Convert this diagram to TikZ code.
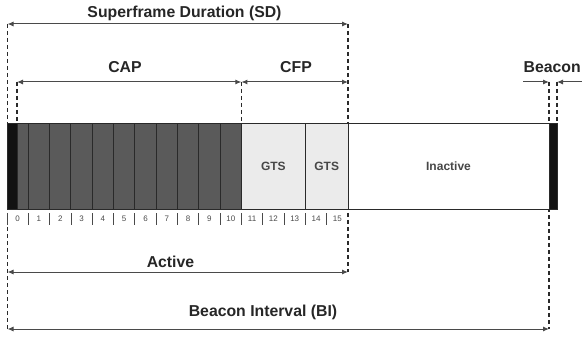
\documentclass[tikz,border=0pt]{standalone}
\usepackage{fontspec}
\setmainfont{Liberation Sans}
\usepackage{tikz}
\usetikzlibrary{arrows.meta,positioning}
\definecolor{capGray}{HTML}{5A5A5A}
\definecolor{gtsGray}{HTML}{EBEBEB}
\definecolor{frameInk}{HTML}{2A2A2A}
\definecolor{bcnBlack}{HTML}{121212}
\definecolor{lblInk}{HTML}{262626}
\definecolor{numInk}{HTML}{4A4A4A}

\begin{document}
\begin{tikzpicture}[
  x=1pt, y=-1pt,
  frame/.style={draw=frameInk, line width=1pt, minimum height=85pt, inner sep=0pt, outer sep=0pt},
  bcnbox/.style={frame, fill=bcnBlack, minimum width=10pt},
  capslot/.style={frame, fill=capGray, minimum width=21.3125pt},
  gtsbox/.style={frame, fill=gtsGray, font=\fontsize{12}{14}\selectfont\bfseries, text=lblInk!85},
  inactbox/.style={frame, fill=white, minimum width=201pt, font=\fontsize{12}{14}\selectfont\bfseries, text=lblInk!85},
  dimlbl/.style={font=\fontsize{15.8}{18}\selectfont\bfseries, text=lblInk, inner sep=0pt},
  slotnum/.style={font=\fontsize{8}{9}\selectfont, text=numInk, inner sep=0pt},
  dim/.style={{Latex[length=6pt,width=5pt]}-{Latex[length=6pt,width=5pt]}, line width=1pt, draw=frameInk!85},
  dimthin/.style={-{Latex[length=6pt,width=5pt]}, line width=1pt, draw=frameInk!85},
  guide/.style={dashed, dash pattern=on 4pt off 3pt, line width=1.1pt, draw=frameInk},
  tick/.style={line width=0.8pt, draw=numInk}
]
\useasboundingbox (0,0) rectangle (582,337);

% Guide lines behind the frame
\coordinate (gL) at (7.5,24);
\coordinate (gSD) at (348,24);
\coordinate (gCAP) at (17,82);
\coordinate (gCFP) at (241.4,82);
\coordinate (gB1) at (549,82);
\coordinate (gB2) at (557,82);
\draw[guide] (gL) -- (7.5,329);
\draw[guide] (gSD) -- (348,272);
\draw[guide] (gCAP) -- (17,124);
\draw[guide] (gCFP) -- (241.4,124);
\draw[guide] (gB1) -- (549,329);
\draw[guide] (gB2) -- (557,124);

% Superframe
\node[bcnbox, anchor=north west] (bcn0) at (7,124) {};
\node[capslot, minimum width=11.31pt, right=0pt of bcn0] (s0) {};
\foreach \i [remember=\i as \j (initially 0)] in {1,...,10}
  \node[capslot, right=0pt of s\j] (s\i) {};
\node[gtsbox, minimum width=63.94pt, right=0pt of s10] (gts1) {GTS};
\node[gtsbox, minimum width=42.63pt, right=0pt of gts1] (gts2) {GTS};
\node[inactbox, right=0pt of gts2] (inact) {Inactive};
\node[bcnbox, minimum width=8pt, right=0pt of inact] (bcn1) {};

% Slot numbers
\foreach \k in {0,...,15} {
  \node[slotnum] (n\k) at ({7+(\k+0.5)*21.3125},219) {\k};
  \draw[tick] ({7+\k*21.3125},213) -- ++(0,12);
}

% Dimension arrows
\coordinate (cAL) at (7.5,272);
\coordinate (cAR) at (348,272);
\coordinate (cBL) at (7.5,329);
\coordinate (cBR) at (549,329);
\coordinate (cBcnIn) at (523,82);
\coordinate (cBcnOut) at (590,82);
\draw[dim] (gL) -- (gSD);
\draw[dim] (gCAP) -- (gCFP);
\draw[dim] (gCFP) -- (348,82);
\draw[dim] (cAL) -- (cAR);
\draw[dim] (cBL) -- (cBR);
\draw[dimthin] (cBcnIn) -- (gB1);
\draw[dimthin] (cBcnOut) -- (gB2);

% Labels
\node[dimlbl] (lSD) at (184.5,13) {Superframe Duration (SD)};
\node[dimlbl] (lCAP) at (125,67) {CAP};
\node[dimlbl] (lCFP) at (296,67) {CFP};
\node[dimlbl, anchor=east] (lBcn) at (581,67) {Beacon};
\node[dimlbl] (lAct) at (170.5,262) {Active};
\node[dimlbl] (lBI) at (263,312) {Beacon Interval (BI)};
\end{tikzpicture}
\end{document}
